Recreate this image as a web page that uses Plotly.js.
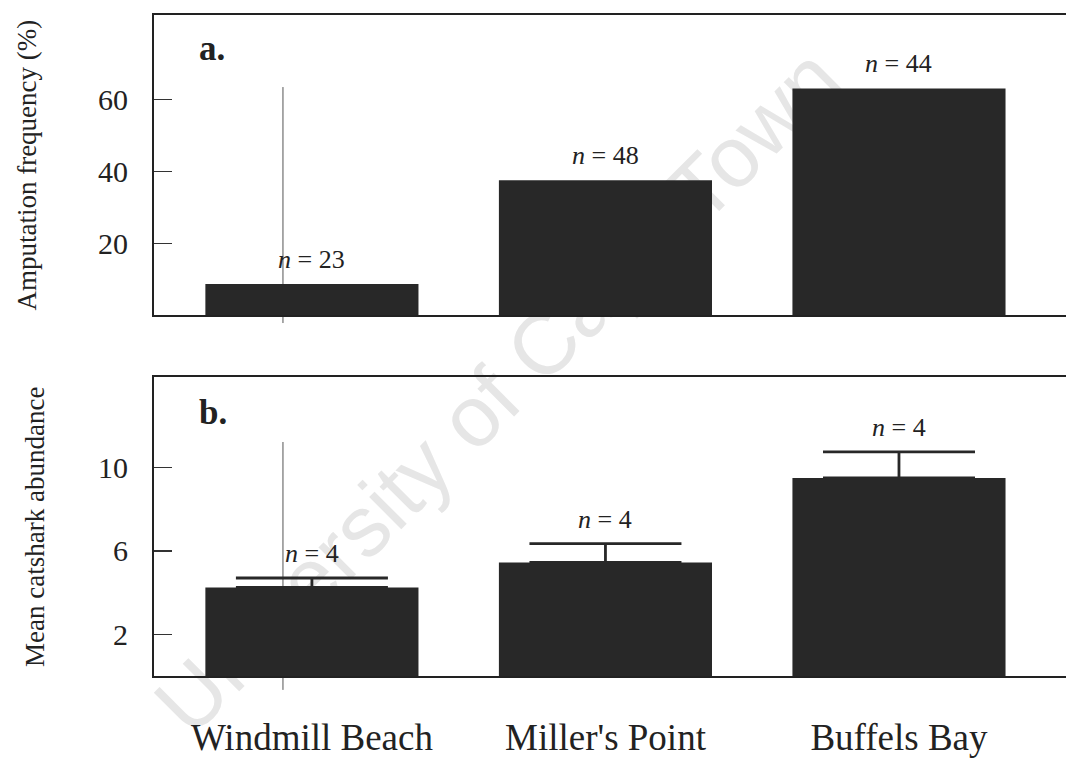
<!DOCTYPE html>
<html>
<head>
<meta charset="utf-8">
<script src="https://cdn.plot.ly/plotly-3.0.1.min.js"></script>
<style>html,body{margin:0;padding:0;background:#fff;}#chart{width:1066px;height:758px;}</style>
</head>
<body>
<div id="chart"></div>
<script>
// ---- data ----
const categories = ['Windmill Beach', "Miller's Point", 'Buffels Bay'];
const amputationPct = [8.7, 37.5, 63];
const amputationN = [23, 48, 44];
const abundanceMean = [4.25, 5.45, 9.5];
const abundanceSE = [0.45, 0.9, 1.25];
const abundanceN = [4, 4, 4];
const ampTicks = [20, 40, 60];
const abuTicks = [2, 6, 10];
const panelLabels = ['a.', 'b.'];
const yTitles = ['Amputation frequency (%)', 'Mean catshark abundance'];
const watermark = 'University of Cape Town';

// ---- style ----
const SERIF = '"Liberation Serif", "Times New Roman", Times, serif';
const INK = '#222222';
const BAR = '#282828';

const traces = [
  {
    type: 'bar', x: categories, y: amputationPct, xaxis: 'x', yaxis: 'y',
    width: 0.726, marker: {color: BAR, line: {width: 0}}, hoverinfo: 'x+y'
  },
  {
    type: 'bar', x: categories, y: abundanceMean, xaxis: 'x2', yaxis: 'y2',
    width: 0.726, marker: {color: BAR, line: {width: 0}}, hoverinfo: 'x+y',
    error_y: {type: 'data', symmetric: false, array: abundanceSE,
      arrayminus: abundanceSE.map(() => 0), width: 76, thickness: 2.8, color: BAR}
  }
];

const xBase = {
  type: 'category', range: [-0.538, 2.569], domain: [0, 1],
  showline: true, mirror: true, linecolor: INK, linewidth: 2,
  ticks: '', showgrid: false, zeroline: false, fixedrange: true
};
const yBase = {
  ticks: 'inside', ticklen: 18, tickwidth: 1.5, tickcolor: '#333',
  showline: true, mirror: false, linecolor: INK, linewidth: 2,
  showgrid: false, zeroline: false, tickfont: {size: 30, color: INK, family: SERIF},
  ticklabelstandoff: 18, fixedrange: true
};

const annotations = [];
categories.forEach((c, i) => {
  annotations.push({
    xref: 'x', yref: 'y', x: c, y: amputationPct[i], yanchor: 'bottom', yshift: 8,
    showarrow: false, text: '<i>n</i> = ' + amputationN[i],
    font: {size: 26, color: INK, family: SERIF}
  });
  annotations.push({
    xref: 'x2', yref: 'y2', x: c, y: abundanceMean[i] + abundanceSE[i], yanchor: 'bottom', yshift: 8,
    showarrow: false, text: '<i>n</i> = ' + abundanceN[i],
    font: {size: 26, color: INK, family: SERIF}
  });
});
annotations.push({
  xref: 'x domain', yref: 'y domain', x: 0.047, y: 0.887, xanchor: 'left', yanchor: 'middle',
  showarrow: false, text: '<b>' + panelLabels[0] + '</b>', font: {size: 35, color: INK, family: SERIF}
});
annotations.push({
  xref: 'x2 domain', yref: 'y2 domain', x: 0.047, y: 0.884, xanchor: 'left', yanchor: 'middle',
  showarrow: false, text: '<b>' + panelLabels[1] + '</b>', font: {size: 35, color: INK, family: SERIF}
});

const layout = {
  width: 1066, height: 758,
  margin: {l: 154, r: 0, t: 15, b: 82, pad: 0},
  paper_bgcolor: '#ffffff', plot_bgcolor: 'rgba(0,0,0,0)',
  showlegend: false,
  font: {family: SERIF, color: INK},
  xaxis: Object.assign({}, xBase, {anchor: 'y', showticklabels: false}),
  yaxis: Object.assign({}, yBase, {
    anchor: 'x', domain: [0.5457, 1], range: [0, 83.4], tickvals: ampTicks,
    title: {text: yTitles[0], font: {size: 27, color: INK, family: SERIF}, standoff: 54}
  }),
  xaxis2: Object.assign({}, xBase, {
    anchor: 'y2', showticklabels: true, ticklabelstandoff: 28,
    tickfont: {size: 37, color: INK, family: SERIF}
  }),
  yaxis2: Object.assign({}, yBase, {
    anchor: 'x2', domain: [0, 0.4516], range: [0, 14.32], tickvals: abuTicks,
    title: {text: yTitles[1], font: {size: 27, color: INK, family: SERIF}, standoff: 46}
  }),
  annotations: annotations,
  shapes: [
    {type: 'rect', xref: 'paper', yref: 'paper', x0: 0.33, x1: 0.41, y0: 0.40, y1: 0.48,
      layer: 'below', line: {width: 0}, fillcolor: 'rgba(0,0,0,0)',
      label: {text: watermark, textangle: -45, textposition: 'middle center',
        font: {size: 86, color: '#e6e6e6', family: '"Liberation Sans", Arial, sans-serif'}}},
    {type: 'line', xref: 'paper', yref: 'paper', x0: 0.1414, x1: 0.1414, y0: 0.534, y1: 0.891,
      layer: 'below', line: {width: 1, color: '#555'}},
    {type: 'line', xref: 'paper', yref: 'paper', x0: 0.1414, x1: 0.1414, y0: -0.021, y1: 0.354,
      layer: 'below', line: {width: 1, color: '#555'}}
  ]
};

Plotly.newPlot('chart', traces, layout, {displayModeBar: false, staticPlot: true});
</script>
</body>
</html>
